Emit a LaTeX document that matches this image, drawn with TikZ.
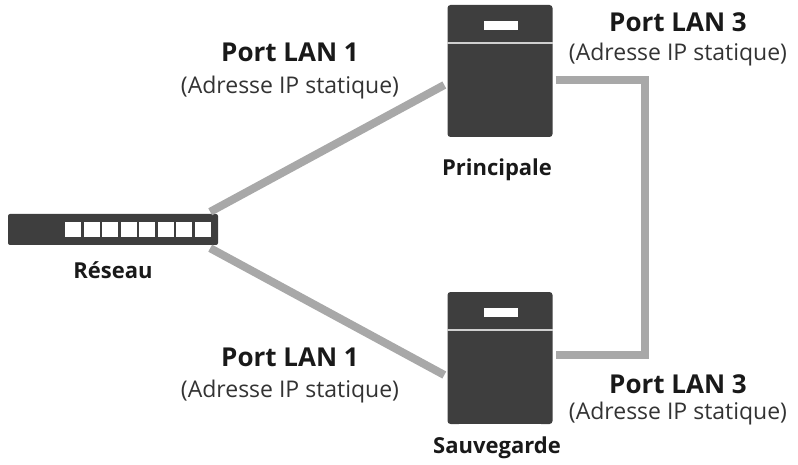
\documentclass[tikz,border=0pt]{standalone}
\usepackage{fontspec}
\setmainfont{Open Sans}
\usetikzlibrary{positioning,calc}
\definecolor{box}{RGB}{62,62,62}
\definecolor{cable}{RGB}{168,168,168}
\tikzset{x=1pt,y=-1pt}
\tikzset{nas/.style={draw=none,fill=box,rounded corners=3pt,minimum width=105pt,minimum height=132pt,inner sep=0pt}}
\tikzset{link/.style={cable,line width=8pt}}
\tikzset{title/.style={font=\bfseries\fontsize{26}{28}\selectfont,text=black!90}}
\tikzset{sub/.style={font=\fontsize{23}{25}\selectfont,text=black!80}}
\tikzset{dev/.style={font=\bfseries\fontsize{22}{24}\selectfont,text=black!90}}
\tikzset{port/.style={fill=white,minimum width=16pt,minimum height=15pt,inner sep=0pt}}
\begin{document}
\begin{tikzpicture}
  \useasboundingbox (0,0) rectangle (798,465);
  % devices
  \node[nas] (main) at (500,71) {};
  \node[nas] (backup) at (500,358) {};
  \node[fill=box,rounded corners=2pt,minimum width=210pt,minimum height=31pt,inner sep=0pt] (net) at (113,229.5) {};
  \foreach \i in {0,...,7}
    \node[port] (p\i) at (73+\i*18.5,229.5) {};
  \foreach \n in {main,backup} {
    \draw[white!75!box,line width=1.5pt] ($(\n.north west)+(0,38)$) -- ($(\n.north east)+(0,38)$);
    \node[fill=white,minimum width=34pt,minimum height=9pt,inner sep=0pt] at ($(\n.north)+(1,21)$) {};
    \fill[white] ($(\n.south west)+(12,0)$) rectangle ($(\n.south east)+(-12,3)$);
  }
  % cables
  \draw[link] ($(net.north east)+(-8,-2)$) -- ($(main.west)+(-3,14)$);
  \draw[link] ($(net.south east)+(-8,3)$) -- ($(backup.west)+(-3,17)$);
  \draw[link] ($(main.east)+(3,9)$) -| (645,355) -- ($(backup.east)+(3,-3)$);
  % labels
  \node[title] (lan1a) at (290,52) {Port LAN 1};
  \node[sub] at (290,88) {(Adresse IP statique)};
  \node[title] (lan3a) at (678,22) {Port LAN 3};
  \node[sub] at (678,55) {(Adresse IP statique)};
  \node[title] (lan1b) at (290,357) {Port LAN 1};
  \node[sub] at (290,392) {(Adresse IP statique)};
  \node[title] (lan3b) at (678,384) {Port LAN 3};
  \node[sub] at (678,414) {(Adresse IP statique)};
  \node[dev] at (113,270) {Réseau};
  \node[dev] at (497,170) {Principale};
  \node[dev] at (497,448) {Sauvegarde};
\end{tikzpicture}
\end{document}
